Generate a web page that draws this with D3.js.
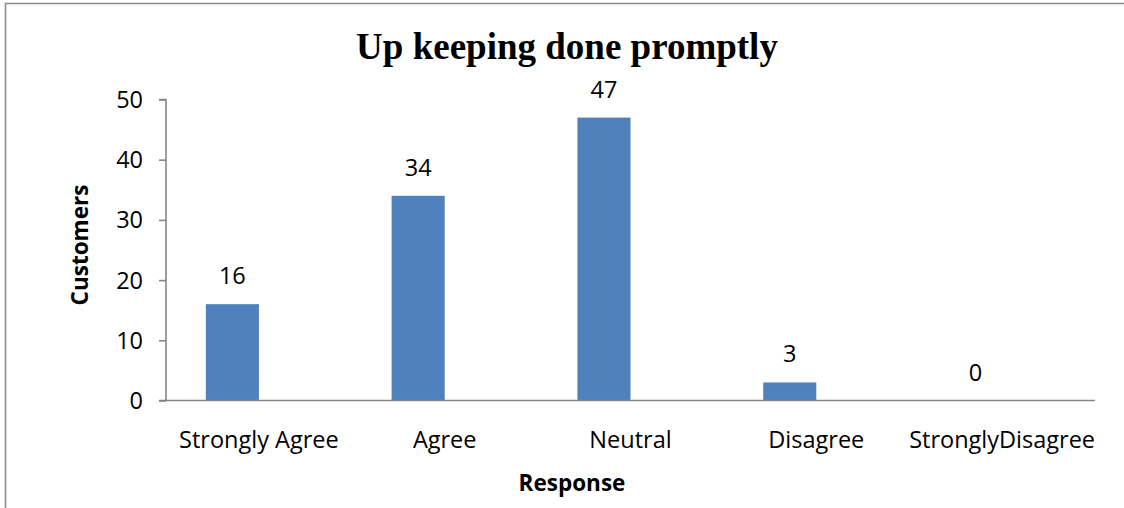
<!DOCTYPE html>
<html><head><meta charset="utf-8">
<script src="https://cdn.jsdelivr.net/npm/d3@7"></script>
<style>body{margin:0;background:#fff}svg{display:block}</style>
</head><body>
<svg id="c" width="1124" height="508"></svg>
<script>
const categories = ["Strongly Agree","Agree","Neutral","Disagree","StronglyDisagree"];
const values = [16,34,47,3,0];
const yTicks = [0,10,20,30,40,50];
const title = "Up keeping done promptly";
const xTitle = "Response";
const yTitle = "Customers";

const svg = d3.select("#c");
// chart frame
svg.append("path").attr("d","M5.5,520 V3.5 H1140").attr("fill","none").attr("stroke","#8c8c8c").attr("stroke-width",1.6);

const x0 = 166, x1 = 1095, yTop = 99.5, yBot = 400.5;
const x = d3.scaleBand().domain(categories).range([x0,x1]).paddingInner(0).paddingOuter(0);
const y = d3.scaleLinear().domain([0,50]).range([yBot,yTop]);
const bw = x.bandwidth()/3.5;   // two series slots with 150% gap
const off = bw*0.75;

const g = svg.append("g");
g.selectAll("rect.bar").data(values).join("rect").attr("class","bar")
  .attr("x",(d,i)=>x(categories[i])+off)
  .attr("width",bw)
  .attr("y",d=>y(d))
  .attr("height",d=>yBot-y(d))
  .attr("fill","#4F81BD");

// y axis
const ya = svg.append("g").attr("transform",`translate(${x0},0)`)
  .call(d3.axisLeft(y).tickValues(yTicks).tickSize(7).tickPadding(16).tickFormat(d3.format("d")));
ya.select(".domain").attr("stroke","#868686").attr("stroke-width",1.6).attr("d",`M-7,${yTop}H0V${yBot}`);
ya.selectAll(".tick line").attr("stroke","#868686").attr("stroke-width",1.6);
ya.selectAll(".tick text").attr("font-family","Open Sans").attr("font-size","23.5px").attr("fill","#000").attr("dy","0.34em");

// x axis
const xa = svg.append("g").attr("transform",`translate(0,${yBot})`)
  .call(d3.axisBottom(x).tickSize(0).tickPadding(31));
xa.select(".domain").attr("stroke","#868686").attr("stroke-width",1.6).attr("d",`M${x0-7},0H${x1}`);
xa.selectAll(".tick text").attr("font-family","Open Sans").attr("font-size","23.5px").attr("fill","#000");

// data labels
svg.selectAll("text.lbl").data(values).join("text").attr("class","lbl")
  .attr("x",(d,i)=>x(categories[i])+off+bw/2)
  .attr("y",d=>y(d)-20)
  .attr("text-anchor","middle")
  .attr("font-family","Open Sans").attr("font-size","23.5px").attr("fill","#000")
  .text(d=>d);

// titles
svg.append("text").attr("x",567).attr("y",59).attr("text-anchor","middle")
  .attr("font-family","Liberation Serif").attr("font-weight","bold").attr("font-size","37px")
  .text(title);
svg.append("text").attr("x",572).attr("y",491).attr("text-anchor","middle")
  .attr("font-family","Open Sans").attr("font-weight","bold").attr("font-size","22.5px")
  .text(xTitle);
svg.append("text").attr("transform","translate(88,245) rotate(-90)").attr("text-anchor","middle")
  .attr("font-family","Open Sans").attr("font-weight","bold").attr("font-size","22.5px")
  .text(yTitle);
</script>
</body></html>
